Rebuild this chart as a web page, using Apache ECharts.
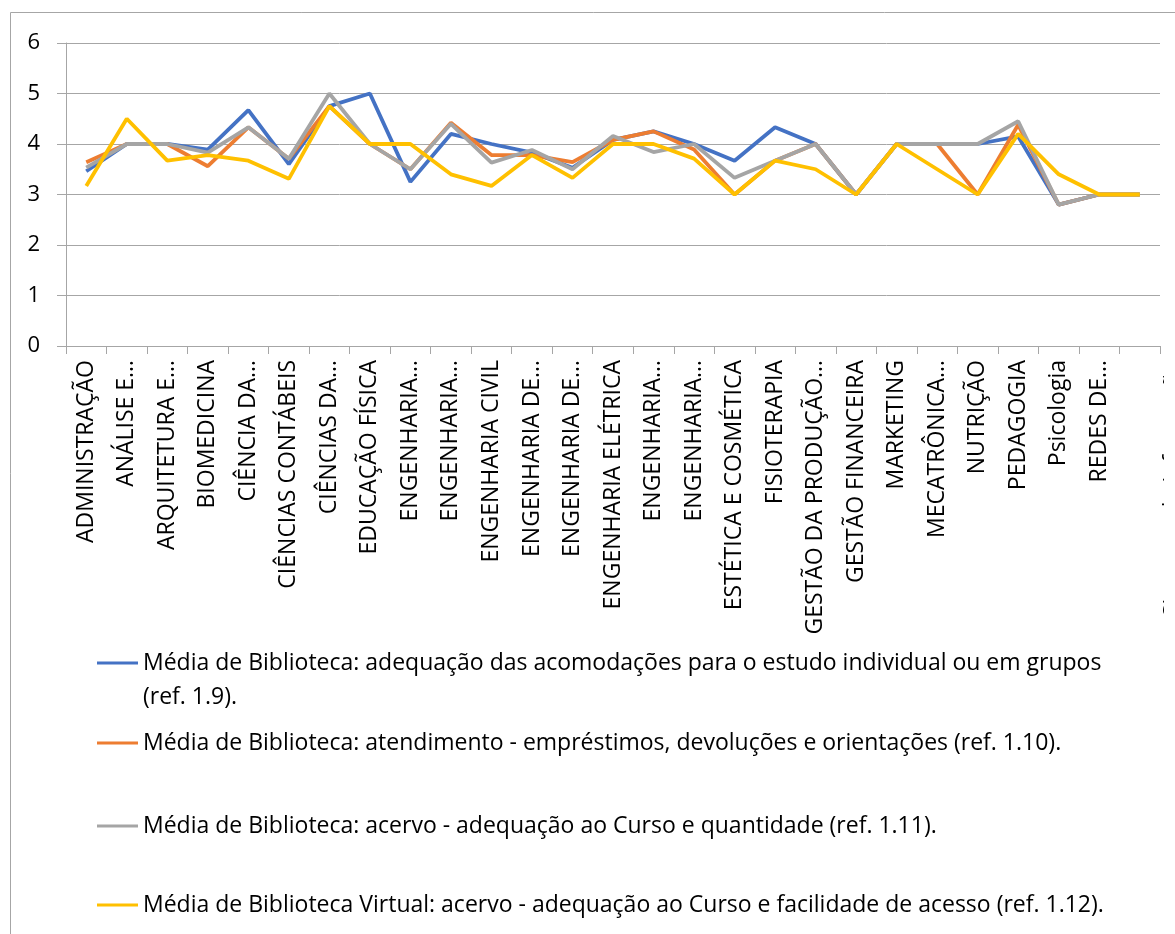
<!DOCTYPE html>
<html>
<head>
<meta charset="utf-8">
<script src="https://cdn.jsdelivr.net/npm/echarts@6/dist/echarts.min.js"></script>
<style>
  html, body { margin: 0; padding: 0; background: #fff; }
  #chart { width: 1175px; height: 934px; }
</style>
</head>
<body>
<div id="chart"></div>
<script>
const categories = [
  "ADMINISTRAÇÃO", "ANÁLISE E…", "ARQUITETURA E…", "BIOMEDICINA", "CIÊNCIA DA…",
  "CIÊNCIAS CONTÁBEIS", "CIÊNCIAS DA…", "EDUCAÇÃO FÍSICA", "ENGENHARIA…", "ENGENHARIA…",
  "ENGENHARIA CIVIL", "ENGENHARIA DE…", "ENGENHARIA DE…", "ENGENHARIA ELÉTRICA", "ENGENHARIA…",
  "ENGENHARIA…", "ESTÉTICA E COSMÉTICA", "FISIOTERAPIA", "GESTÃO DA PRODUÇÃO…", "GESTÃO FINANCEIRA",
  "MARKETING", "MECATRÔNICA…", "NUTRIÇÃO", "PEDAGOGIA", "Psicologia",
  "REDES DE…", "Sistemas de informação"
];

const seriesNames = [
  "Média de Biblioteca: adequação das acomodações para o estudo individual ou em grupos (ref. 1.9).",
  "Média de Biblioteca: atendimento - empréstimos, devoluções e orientações (ref. 1.10).",
  "Média de Biblioteca: acervo - adequação ao Curso e quantidade (ref. 1.11).",
  "Média de Biblioteca Virtual: acervo - adequação ao Curso e facilidade de acesso (ref. 1.12)."
];

const acomodacoes = [3.46, 4, 4, 3.89, 4.67, 3.6, 4.75, 5, 3.25, 4.2, 4, 3.83, 3.53, 4.08, 4.25, 4, 3.67, 4.33, 4, 3, 4, 4, 4, 4.15, 2.8, 3, 3];
const atendimento = [3.64, 4, 4, 3.56, 4.33, 3.71, 4.75, 4, 3.5, 4.42, 3.78, 3.78, 3.64, 4.08, 4.25, 3.89, 3, 3.67, 4, 3, 4, 4, 3, 4.38, 2.8, 3, 3];
const acervo = [3.53, 4, 4, 3.83, 4.33, 3.71, 5, 4, 3.5, 4.4, 3.63, 3.88, 3.5, 4.16, 3.84, 4, 3.33, 3.67, 4, 3, 4, 4, 4, 4.45, 2.8, 3, 3];
const acervoVirtual = [3.17, 4.5, 3.67, 3.78, 3.67, 3.31, 4.75, 4, 4, 3.4, 3.17, 3.78, 3.33, 4, 4, 3.71, 3, 3.67, 3.5, 3, 4, 3.5, 3, 4.2, 3.4, 3, 3];

const yTicks = { min: 0, max: 6, interval: 1 };

const colors = ["#4472C4", "#ED7D31", "#A5A5A5", "#FFC000"];
const font = "'Open Sans', 'Noto Sans', sans-serif";
const gridColor = "#a6a6a6";

const chart = echarts.init(document.getElementById("chart"));

const lastIdx = categories.length - 1;
const legendTops = [612, 726, 809, 888];

chart.setOption({
  animation: false,
  backgroundColor: "#fff",
  color: colors,
  textStyle: { fontFamily: font },
  grid: {
    left: 66, right: 15, top: 43, bottom: 588,
    containLabel: false,
    outerBoundsMode: "none"
  },
  legend: seriesNames.map((name, i) => ({
    data: [name],
    left: 97,
    top: legendTops[i],
    padding: 0,
    icon: "rect",
    itemWidth: 41,
    itemHeight: 3,
    selectedMode: false,
    // first entry wraps; keep its icon next to the first line
    formatter: (n) => i === 0 ? " \n" + n.replace(" (ref. 1.9).", "\n(ref. 1.9).") : n,
    textStyle: { fontSize: 23, color: "#000", fontFamily: font, lineHeight: 34 }
  })),
  xAxis: {
    type: "category",
    data: categories,
    boundaryGap: true,
    axisLine: { lineStyle: { color: gridColor, width: 1 } },
    axisTick: { show: true, length: 8, lineStyle: { color: gridColor } },
    axisLabel: {
      interval: 0,
      rotate: 90,
      margin: 14,
      fontSize: 23,
      color: "#000",
      fontFamily: font,
      // last label is cut off by the right edge in the original
      formatter: (v, idx) => idx === lastIdx ? "{gap| }\n{cut|" + v + "}" : v,
      rich: {
        gap: { fontSize: 23, lineHeight: 68 },
        cut: { fontSize: 23, lineHeight: 26, color: "#000", fontFamily: font }
      }
    }
  },
  yAxis: {
    type: "value",
    min: yTicks.min,
    max: yTicks.max,
    interval: yTicks.interval,
    axisLine: { show: true, lineStyle: { color: gridColor, width: 1 } },
    axisTick: { show: true, length: 9, lineStyle: { color: gridColor } },
    splitLine: { lineStyle: { color: gridColor, width: 1 } },
    axisLabel: { fontSize: 22, color: "#000", margin: 26, fontFamily: font }
  },
  graphic: [
    {
      type: "rect",
      silent: true,
      z: 100,
      shape: { x: 10.5, y: 12.5, width: 1300, height: 1000 },
      style: { fill: "none", stroke: gridColor, lineWidth: 1 }
    },
    {
      type: "rect",
      silent: true,
      z: 100,
      z2: 100,
      shape: { x: 1164, y: 352, width: 20, height: 290 },
      style: { fill: "#fff" }
    }
  ],
  series: [acomodacoes, atendimento, acervo, acervoVirtual].map((vals, i) => ({
    name: seriesNames[i],
    type: "line",
    data: vals,
    symbol: "none",
    lineStyle: { width: 3.8, color: colors[i] },
    itemStyle: { color: colors[i] }
  }))
});
</script>
</body>
</html>
